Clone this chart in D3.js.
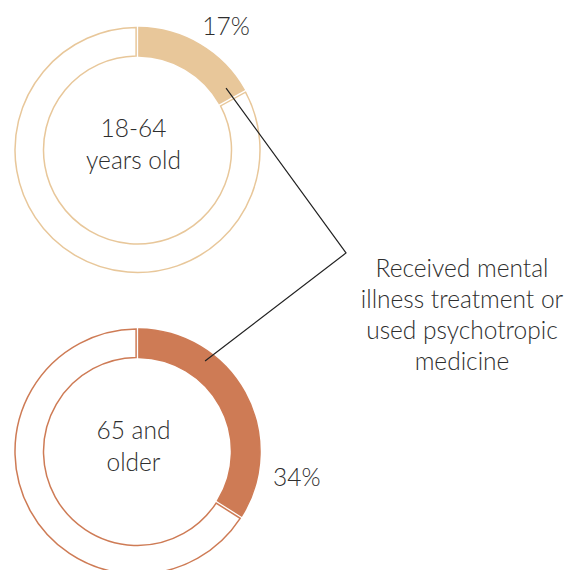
<!DOCTYPE html>
<html>
<head>
<meta charset="utf-8">
<script src="https://cdn.jsdelivr.net/npm/d3@7"></script>
<style>
html,body{margin:0;padding:0;background:#fff;}
svg{display:block;}
text{font-family:"Lato","Open Sans",sans-serif;font-weight:300;fill:#2e2e2e;}
</style>
</head>
<body>
<svg id="chart" width="571" height="570"></svg>
<script>
const groups = ["18-64 years old", "65 and older"];
const centerLines = [["18-64", "years old"], ["65 and", "older"]];
const values = [17, 34];
const percentLabels = ["17%", "34%"];
const colors = ["#E8C79A", "#CE7B55"];
const annotationLines = ["Received mental", "illness treatment or", "used psychotropic", "medicine"];

const svg = d3.select("#chart");
const cx = 137.5;
const y = d3.scalePoint().domain(groups).range([150, 451.5]);
const rOuter = 122.5, rInner = 94;

const pie = d3.pie().sort(null).value(d => d);
const arc = d3.arc().innerRadius(rInner).outerRadius(rOuter).padAngle(0.028).padRadius(100);

const anchors = [];
groups.forEach((g, i) => {
  const gEl = svg.append("g").attr("transform", `translate(${cx},${y(g)})`);
  const arcs = pie([values[i], 100 - values[i]]);
  gEl.selectAll("path").data(arcs).join("path")
    .attr("d", arc)
    .attr("fill", (d, j) => j === 0 ? colors[i] : "#fff")
    .attr("stroke", colors[i])
    .attr("stroke-width", 1.5);
  centerLines[i].forEach((t, k) => {
    gEl.append("text")
      .attr("x", -4)
      .attr("y", -13 + k * 32)
      .attr("text-anchor", "middle")
      .attr("font-size", 24.5)
      .text(t);
  });
  const a = arcs[0];
  const frac = i === 0 ? 0.9 : 0.3;
  const ang = a.startAngle + (a.endAngle - a.startAngle) * frac;
  const rr = i === 0 ? 108 : 113;
  anchors.push([cx + rr * Math.sin(ang), y(g) - rr * Math.cos(ang)]);
});

svg.append("text").attr("x", 226).attr("y", 35).attr("text-anchor", "middle")
  .attr("font-size", 24.5).text(percentLabels[0]);
svg.append("text").attr("x", 273).attr("y", 486).attr("text-anchor", "start")
  .attr("font-size", 24.5).text(percentLabels[1]);

const vertex = [346, 253];
svg.append("path")
  .attr("d", d3.line()([anchors[0], vertex, anchors[1]]))
  .attr("fill", "none")
  .attr("stroke", "#222")
  .attr("stroke-width", 1.2);

annotationLines.forEach((t, k) => {
  svg.append("text")
    .attr("x", 462)
    .attr("y", 277 + k * 31)
    .attr("text-anchor", "middle")
    .attr("font-size", 24.5)
    .text(t);
});
</script>
</body>
</html>
